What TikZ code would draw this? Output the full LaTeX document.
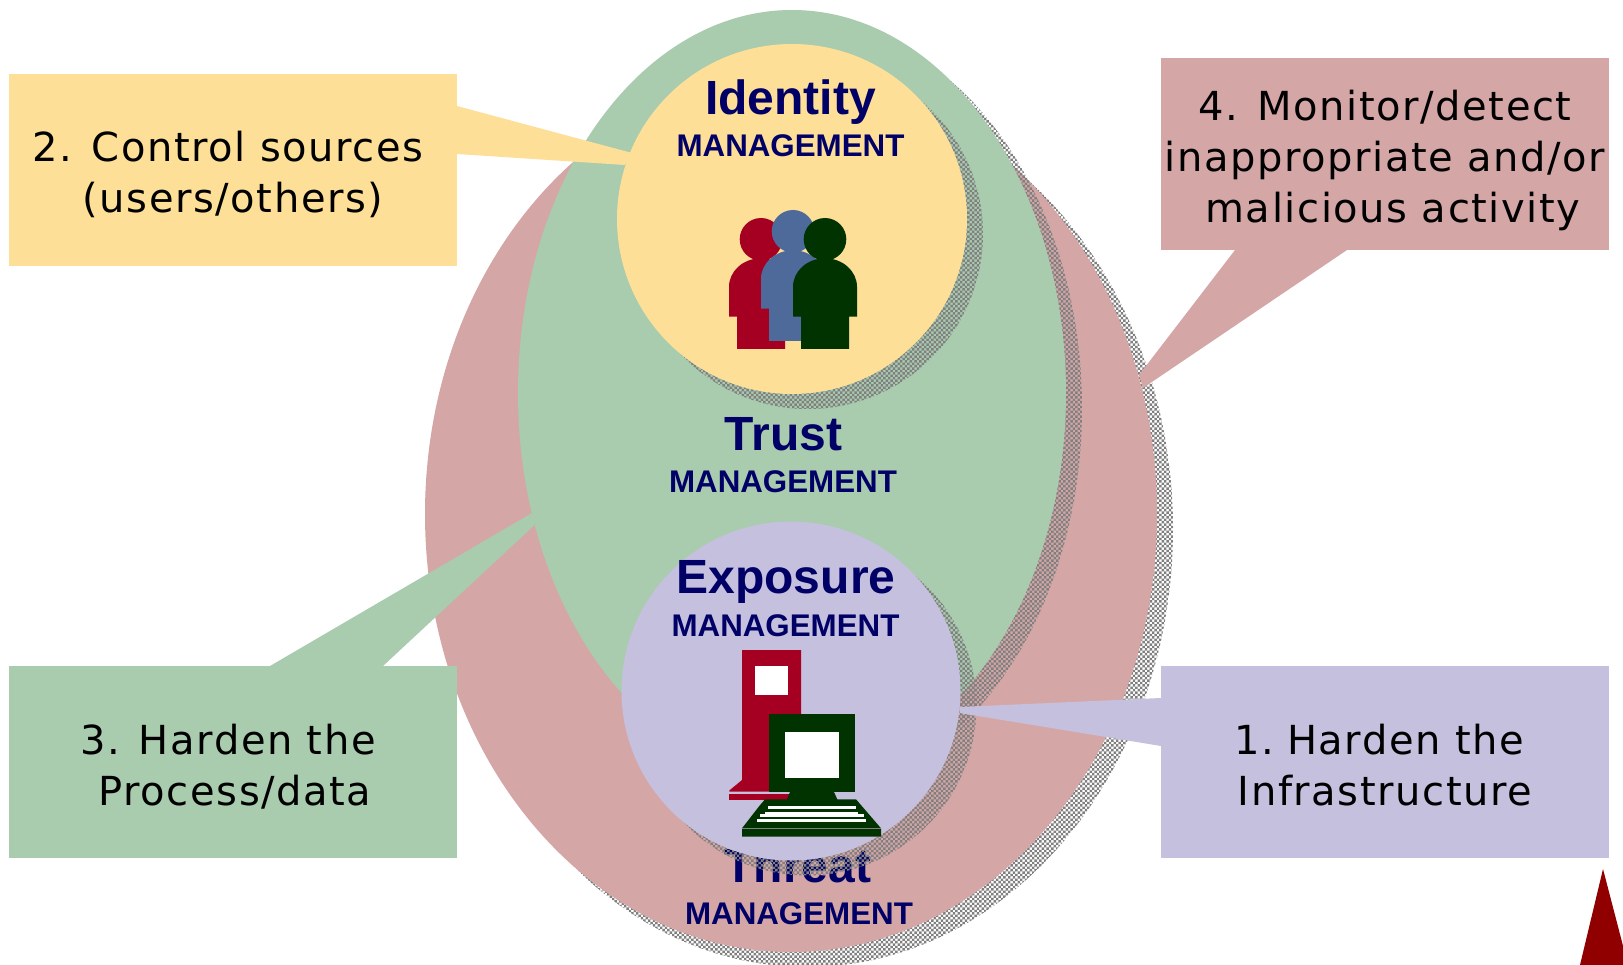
\documentclass[tikz,border=0pt]{standalone}
\usepackage{fontspec}
\usetikzlibrary{patterns}
\setmainfont{Liberation Sans}
\newfontfamily\calloutfont[LetterSpace=4]{DejaVu Sans}
\definecolor{cyellow}{HTML}{FDDF98}
\definecolor{cgreen}{HTML}{A9CBAE}
\definecolor{cred}{HTML}{D5A6A6}
\definecolor{clav}{HTML}{C5C0DE}
\definecolor{cnavy}{HTML}{000066}
\definecolor{iconred}{HTML}{A50021}
\definecolor{iconblue}{HTML}{4D6A9A}
\definecolor{icongreen}{HTML}{003300}
\definecolor{shadowgray}{HTML}{808080}
\definecolor{markerred}{HTML}{900000}
\pgfdeclarepatternformonly{chk}{\pgfqpoint{-0.1pt}{-0.1pt}}{\pgfqpoint{4.9pt}{4.9pt}}{\pgfqpoint{4.8pt}{4.8pt}}{%
  \pgfpathrectangle{\pgfpointorigin}{\pgfqpoint{2.4pt}{2.4pt}}%
  \pgfpathrectangle{\pgfqpoint{2.4pt}{2.4pt}}{\pgfqpoint{2.4pt}{2.4pt}}%
  \pgfusepath{fill}}
\newcommand{\topstrut}[1]{\rule{0pt}{#1pt}}
\tikzset{
  shadowfill/.style={pattern=chk,pattern color=shadowgray},
  calloutbox/.style={inner sep=0pt,minimum width=448pt,minimum height=192pt,align=center,text=black,
    font=\calloutfont\fontsize{40}{51}\selectfont},
  bigtitle/.style={anchor=base,inner sep=0pt,text=cnavy,font=\bfseries\fontsize{48}{48}\selectfont},
  subtitle/.style={anchor=base,inner sep=0pt,text=cnavy,font=\bfseries\fontsize{31.3}{32}\selectfont},
  person/.pic={
    \path[pic actions] (0,0) circle [radius=21.3pt];
    \path[pic actions] (-32,77.4) -- (-32,47.5) .. controls (-32,31.8) and (-17.7,19) .. (0,19)
      .. controls (17.7,19) and (32,31.8) .. (32,47.5) -- (32,77.4) -- (24,77.4) -- (24,109.7)
      -- (-24,109.7) -- (-24,77.4) -- cycle;
  }
}
\begin{document}
\begin{tikzpicture}[x=1pt,y=-1pt]
\useasboundingbox (0,0) rectangle (1623,965);
\clip (0,0) rectangle (1623,965);
% outer ellipse
\fill[shadowfill] (807,529) ellipse [x radius=366pt,y radius=438pt];
\fill[cred] (791,514) ellipse [x radius=366pt,y radius=438pt];
\node[bigtitle] (threat) at (798,882) {Threat};
\node[subtitle] (threatsub) at (799,924) {MANAGEMENT};
% middle ellipse
\fill[shadowfill] (808,408) ellipse [x radius=274pt,y radius=383pt];
\fill[cgreen] (792,393) ellipse [x radius=274pt,y radius=383pt];
\node[bigtitle] (trust) at (783.5,450) {Trust};
\node[subtitle] (trustsub) at (783,493) {MANAGEMENT};
% identity circle
\fill[shadowfill] (808,234) circle [radius=175pt];
\fill[cyellow] (792,219) circle [radius=175pt];
\node[bigtitle] (identity) at (790.5,115) {Identity};
\node[subtitle] (identitysub) at (790.5,157) {MANAGEMENT};
\pic[fill=iconred] at (761,239.3) {person};
\pic[fill=iconblue] at (793,231.3) {person};
\pic[fill=icongreen] at (825,239.3) {person};
% exposure circle
\fill[shadowfill] (807,706) circle [radius=169.5pt];
\fill[clav] (791,691) circle [radius=169.5pt];
\node[bigtitle] (exposure) at (786,593.5) {Exposure};
\node[subtitle] (exposuresub) at (785.5,636) {MANAGEMENT};
% server
\fill[iconred] (742,650) -- (801,650) -- (801,791.5) -- (729.3,791.5) -- (729.3,790.5) -- (742,780) -- cycle;
\fill[iconred] (729.3,793.5) rectangle (790,800);
\fill[white] (755.3,666) rectangle (787.7,695.3);
% terminal
\fill[icongreen] (769,714) rectangle (855,792);
\fill[white] (785,732) rectangle (839,778);
\fill[icongreen] (790,792) -- (834,792) -- (837.3,799.3) -- (856,799.3) -- (881,828.3) -- (881,836.7)
  -- (742,836.7) -- (742,828.3) -- (759.3,806) -- (765,799.3) -- (787,799.3) -- cycle;
\fill[white] (768,806) rectangle (855.7,808.7);
\fill[white] (765.3,811.5) rectangle (858,814);
\fill[white] (760,814) rectangle (863.7,816.7);
\fill[white] (757.3,819.3) rectangle (866,822);
\fill[shadowgray] (742,828.3) rectangle (881,829);
% callouts
\coordinate (tail2a) at (457,106);
\coordinate (tip2a) at (632,153);
\coordinate (tip2b) at (625,165);
\coordinate (tail2b) at (457,154);
\fill[cyellow] (tail2a) -- (tip2a) -- (tip2b) -- (tail2b) -- cycle;
\node[calloutbox,fill=cyellow] (box2) at (233,170) {\topstrut{38.6}2. Control sources\hspace*{10pt}\\(users/others)};
\coordinate (tail4a) at (1235,250);
\coordinate (tip4a) at (1139,375);
\coordinate (tip4b) at (1143,388);
\coordinate (tail4b) at (1347,250);
\fill[cred] (tail4a) -- (tip4a) -- (tip4b) -- (tail4b) -- cycle;
\node[calloutbox,fill=cred] (box4) at (1385,154) {\topstrut{43}4. Monitor/detect\\inappropriate and/or\\\hspace*{16pt}malicious activity};
\coordinate (tail3a) at (270,666);
\coordinate (tip3a) at (532,513);
\coordinate (tip3b) at (534.6,525);
\coordinate (tail3b) at (383,666);
\fill[cgreen] (tail3a) -- (tip3a) -- (tip3b) -- (tail3b) -- cycle;
\node[calloutbox,fill=cgreen] (box3) at (233,762) {\topstrut{39.7}3. Harden the\hspace*{10pt}\\\hspace*{4pt}Process/data};
\coordinate (tail1a) at (1161,698);
\coordinate (tip1a) at (959.5,707);
\coordinate (tip1b) at (959.5,713);
\coordinate (tail1b) at (1161,746);
\fill[clav] (tail1a) -- (tip1a) -- (tip1b) -- (tail1b) -- cycle;
\node[calloutbox,fill=clav] (box1) at (1385,762) {\topstrut{35.6}1.\hspace{-6pt} Harden the\hspace*{12pt}\\Infrastructure};
% corner marker
\fill[markerred] (1603,869) -- (1628,965) -- (1580,965) -- cycle;
\end{tikzpicture}
\end{document}
